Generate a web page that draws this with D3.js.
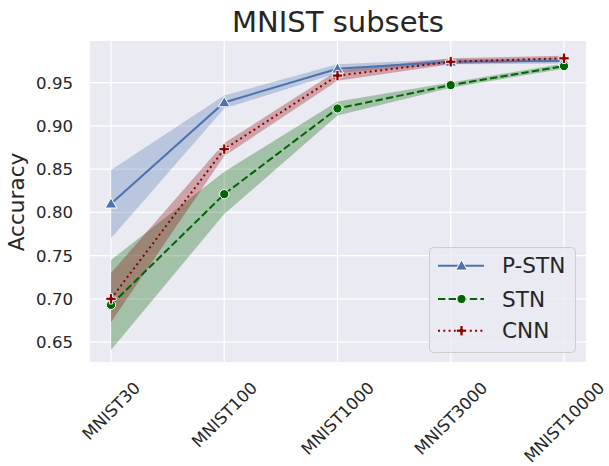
<!DOCTYPE html>
<html><head><meta charset="utf-8">
<script src="https://cdn.jsdelivr.net/npm/d3@7"></script>
<style>body{margin:0;background:#fff}svg{display:block;font-family:"DejaVu Sans",sans-serif}</style>
</head><body><svg id="c" width="609" height="466"></svg>
<script>
const categories = ["MNIST30","MNIST100","MNIST1000","MNIST3000","MNIST10000"];
const pstnMean = [0.810, 0.927, 0.966, 0.974, 0.975];
const pstnLo   = [0.770, 0.920, 0.961, 0.971, 0.972];
const pstnHi   = [0.849, 0.935, 0.971, 0.977, 0.978];
const stnMean  = [0.693, 0.821, 0.920, 0.947, 0.969];
const stnLo    = [0.641, 0.798, 0.912, 0.944, 0.966];
const stnHi    = [0.745, 0.847, 0.928, 0.950, 0.972];
const cnnMean  = [0.700, 0.873, 0.958, 0.974, 0.978];
const cnnLo    = [0.673, 0.865, 0.952, 0.971, 0.975];
const cnnHi    = [0.730, 0.880, 0.964, 0.978, 0.981];
const yTicks   = [0.65, 0.70, 0.75, 0.80, 0.85, 0.90, 0.95];
const seriesNames = ["P-STN","STN","CNN"];

const svg = d3.select("#c");
const L=90, R=586, T=41, B=362;
const x = d3.scalePoint().domain(categories).range([111,564]);
const y = d3.scaleLinear().domain([0.627,0.998]).range([B,T]);
const txt = "#262626";

svg.append("rect").attr("x",L).attr("y",T).attr("width",R-L).attr("height",B-T).attr("fill","#eaeaf2");
// grid
svg.append("g").selectAll("line").data(yTicks).join("line")
  .attr("x1",L).attr("x2",R).attr("y1",d=>y(d)).attr("y2",d=>y(d))
  .attr("stroke","#fff").attr("stroke-width",1.25);
svg.append("g").selectAll("line").data(categories).join("line")
  .attr("x1",d=>x(d)).attr("x2",d=>x(d)).attr("y1",T).attr("y2",B)
  .attr("stroke","#fff").attr("stroke-width",1.25);

// y tick labels
svg.append("g").selectAll("text").data(yTicks).join("text")
  .attr("x",73).attr("y",d=>y(d)).attr("dy","0.36em").attr("text-anchor","end")
  .attr("font-size",16.6).attr("fill",txt).text(d=>d3.format(".2f")(d));

// x tick labels rotated
const xl = svg.append("g").selectAll("text").data(categories).join("text")
  .attr("text-anchor","middle").attr("dy","0.365em")
  .attr("font-size",16.6).attr("fill",txt).text(d=>d);
xl.each(function(d){
  const Lt = this.getComputedTextLength();
  const h = 12.1;
  const cy = 380.5 + (Lt+h)*Math.SQRT1_2/2;
  d3.select(this).attr("transform",`translate(${x(d)},${cy}) rotate(-45)`);
});

// y label
svg.append("text").attr("transform","translate(24,202) rotate(-90)")
  .attr("text-anchor","middle").attr("font-size",21.6).attr("fill",txt).text("Accuracy");
// title
svg.append("text").attr("x",338).attr("y",32).attr("text-anchor","middle")
  .attr("font-size",29).attr("fill",txt).text("MNIST subsets");

const series = [
  {name:"P-STN", mean:pstnMean, lo:pstnLo, hi:pstnHi, color:"#4c72b0", dash:null, marker:"tri"},
  {name:"STN", mean:stnMean, lo:stnLo, hi:stnHi, color:"#006400", dash:"7.4,3.2", marker:"circ"},
  {name:"CNN", mean:cnnMean, lo:cnnLo, hi:cnnHi, color:"#8b0000", dash:"2,3.3", marker:"plus"}
];
const area = d3.area().x(d=>x(d.c)).y0(d=>y(d.lo)).y1(d=>y(d.hi));
const line = d3.line().x(d=>x(d.c)).y(d=>y(d.v));
const g = svg.append("g");
series.forEach(s=>{
  const pts = categories.map((c,i)=>({c,lo:s.lo[i],hi:s.hi[i]}));
  g.append("path").attr("d",area(pts)).attr("fill",s.color).attr("fill-opacity",0.3);
});
function marker(sel, type, color, cx, cy){
  if(type==="tri"){
    sel.append("path").attr("d",d3.symbol(d3.symbolTriangle,60)()).attr("transform",`translate(${cx},${cy+1})`)
      .attr("fill",color).attr("stroke","#fff").attr("stroke-width",1);
  } else if(type==="circ"){
    sel.append("circle").attr("cx",cx).attr("cy",cy).attr("r",4.6).attr("fill",color).attr("stroke","#fff").attr("stroke-width",1);
  } else {
    const a=5.2,b=1.6;
    const p=`M${-b},${-a}H${b}V${-b}H${a}V${b}H${b}V${a}H${-b}V${b}H${-a}V${-b}H${-b}Z`;
    sel.append("path").attr("d",p).attr("transform",`translate(${cx},${cy})`).attr("fill",color).attr("stroke","#fff").attr("stroke-width",0.9);
  }
}
series.forEach(s=>{
  const pts = categories.map((c,i)=>({c,v:s.mean[i]}));
  g.append("path").attr("d",line(pts)).attr("fill","none").attr("stroke",s.color)
    .attr("stroke-width",2).attr("stroke-dasharray",s.dash);
});
series.forEach(s=>{
  categories.forEach((c,i)=>marker(g,s.marker,s.color,x(c),y(s.mean[i])));
});

// legend
const lg = svg.append("g");
lg.append("rect").attr("x",429.5).attr("y",247.5).attr("width",146).attr("height",105).attr("rx",4)
  .attr("fill","#eaeaf2").attr("fill-opacity",0.8).attr("stroke","#cccccc").attr("stroke-width",1);
const rows=[265.7,299,330.7];
series.forEach((s,i)=>{
  lg.append("line").attr("x1",438).attr("x2",484).attr("y1",rows[i]).attr("y2",rows[i])
    .attr("stroke",s.color).attr("stroke-width",2).attr("stroke-dasharray",s.dash);
  marker(lg,s.marker,s.color,461.5,rows[i]);
  lg.append("text").attr("x",502).attr("y",rows[i]).attr("dy","0.36em").attr("font-size",21.6)
    .attr("fill",txt).text(seriesNames[i]);
});
</script></body></html>
